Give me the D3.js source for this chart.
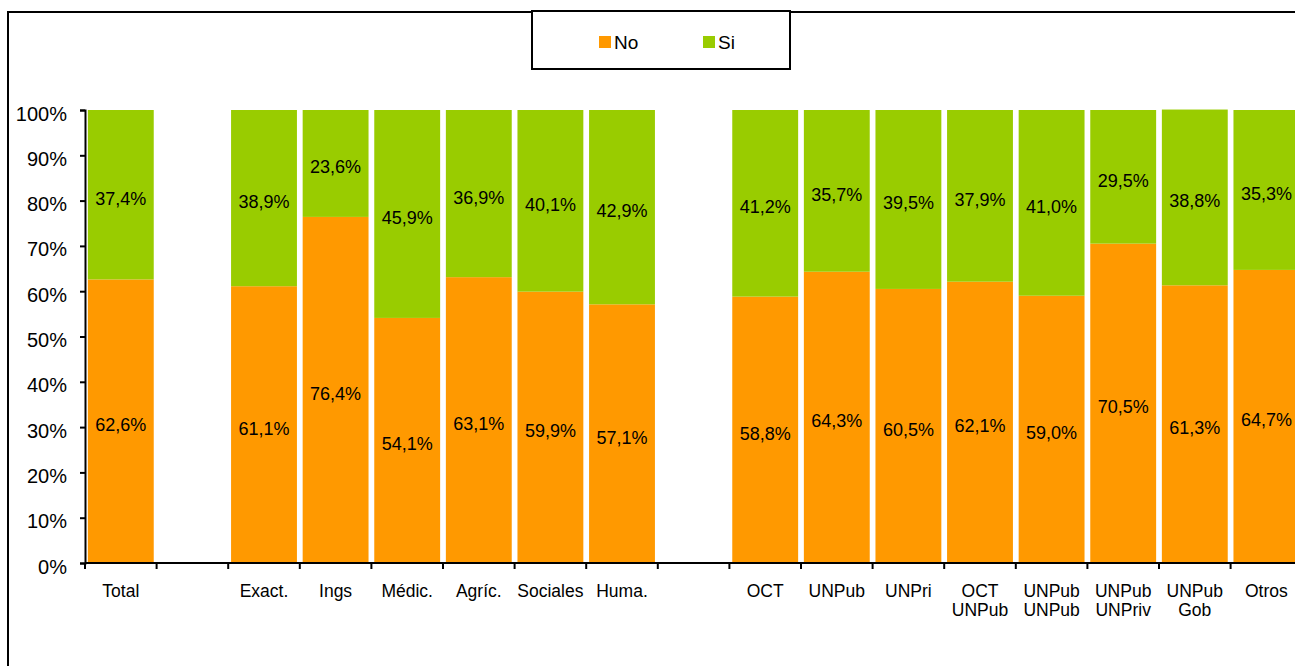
<!DOCTYPE html>
<html>
<head>
<meta charset="utf-8">
<script src="https://cdn.jsdelivr.net/npm/d3@7"></script>
<style>
  body { margin: 0; background: #fff; }
  svg { font-family: "Liberation Sans", Arial, sans-serif; }
</style>
</head>
<body>
<svg id="svg" width="1295" height="666"></svg>
<script>
// categories; empty strings are the spacer slots between groups
const categories = ["Total", "", "Exact.", "Ings", "Médic.", "Agríc.", "Sociales", "Huma.", "",
  "OCT", "UNPub", "UNPri", "OCT\nUNPub", "UNPub\nUNPub", "UNPub\nUNPriv", "UNPub\nGob", "Otros"];
const noValues = [62.6, null, 61.1, 76.4, 54.1, 63.1, 59.9, 57.1, null,
  58.8, 64.3, 60.5, 62.1, 59.0, 70.5, 61.3, 64.7];
const siValues = [37.4, null, 38.9, 23.6, 45.9, 36.9, 40.1, 42.9, null,
  41.2, 35.7, 39.5, 37.9, 41.0, 29.5, 38.8, 35.3];
const yTicks = [0, 10, 20, 30, 40, 50, 60, 70, 80, 90, 100];
const seriesNames = ["No", "Si"];
const colors = { No: "#FF9900", Si: "#99CC00" };

const svg = d3.select("#svg");

// outer frame
svg.append("rect").attr("x", 8).attr("y", 12).attr("width", 1300).attr("height", 670)
  .attr("fill", "none").attr("stroke", "#000").attr("stroke-width", 2);

const keys = categories.map((c, i) => i + ":" + c);
const rows = keys.map((k, i) => ({ key: k, label: categories[i], No: noValues[i], Si: siValues[i] }));

const x = d3.scaleBand().domain(keys).range([85, 85 + 17 * 71.6]).paddingInner(0.08).paddingOuter(0.04);
const y = d3.scaleLinear().domain([0, 100]).range([563, 110]);

const stack = d3.stack().keys(seriesNames).value((d, k) => d[k] == null ? 0 : d[k]);
const layers = stack(rows.filter(d => d.No != null));

const g = svg.append("g");
g.selectAll("g.layer").data(layers).enter().append("g")
  .attr("fill", d => colors[d.key])
  .selectAll("rect").data(d => d).enter().append("rect")
  .attr("x", d => x(d.data.key))
  .attr("width", x.bandwidth())
  .attr("y", d => y(d[1]))
  .attr("height", d => y(d[0]) - y(d[1]));

// value labels
g.selectAll("g.lbl").data(layers).enter().append("g")
  .selectAll("text").data(d => d.map(s => ({ s, key: d.key }))).enter().append("text")
  .attr("x", d => x(d.s.data.key) + x.bandwidth() / 2)
  .attr("y", d => y((d.s[0] + d.s[1]) / 2) + 10)
  .attr("text-anchor", "middle")
  .attr("font-size", 18)
  .attr("fill", "#000")
  .text(d => d3.format(".1f")(d.s.data[d.key]).replace(".", ",") + "%");

// y axis
const yAxis = d3.axisLeft(y).tickValues(yTicks).tickSize(5).tickFormat(d => d + "%");
const ya = svg.append("g").attr("transform", "translate(85,0)").call(yAxis);
ya.select(".domain").attr("stroke-width", 2);
ya.selectAll(".tick line").attr("stroke-width", 2);
ya.selectAll(".tick text").attr("font-size", 20).attr("fill", "#000").attr("x", -18).attr("dy", "0.5em");

// x axis: line, ticks between slots, labels at slot centres
const step = x.step();
const x0 = x.range()[0];
const xa = svg.append("g");
xa.append("line").attr("x1", x0).attr("x2", x.range()[1]).attr("y1", 563).attr("y2", 563)
  .attr("stroke", "#000").attr("stroke-width", 2);
xa.selectAll("line.tk").data(d3.range(keys.length + 1)).enter().append("line")
  .attr("x1", i => x0 + i * step).attr("x2", i => x0 + i * step)
  .attr("y1", 563).attr("y2", 569).attr("stroke", "#000").attr("stroke-width", 2);
const xl = xa.selectAll("text").data(rows).enter().append("text")
  .attr("x", d => x(d.key) + x.bandwidth() / 2)
  .attr("y", 597)
  .attr("text-anchor", "middle")
  .attr("font-size", 17.5)
  .attr("fill", "#000");
xl.selectAll("tspan").data(d => d.label.split("\n")).enter().append("tspan")
  .attr("x", function () { return d3.select(this.parentNode).attr("x"); })
  .attr("dy", (d, i) => i === 0 ? 0 : 19)
  .text(d => d);

// legend
const lg = svg.append("g");
lg.append("rect").attr("x", 532).attr("y", 11).attr("width", 258).attr("height", 58)
  .attr("fill", "#fff").attr("stroke", "#000").attr("stroke-width", 2);
const li = lg.selectAll("g.item").data(seriesNames).enter().append("g")
  .attr("transform", (d, i) => `translate(${599 + i * 104},36)`);
li.append("rect").attr("width", 12).attr("height", 12).attr("fill", d => colors[d]);
li.append("text").attr("x", 15).attr("y", 13).attr("font-size", 19).attr("fill", "#000").text(d => d);
</script>
</body>
</html>
